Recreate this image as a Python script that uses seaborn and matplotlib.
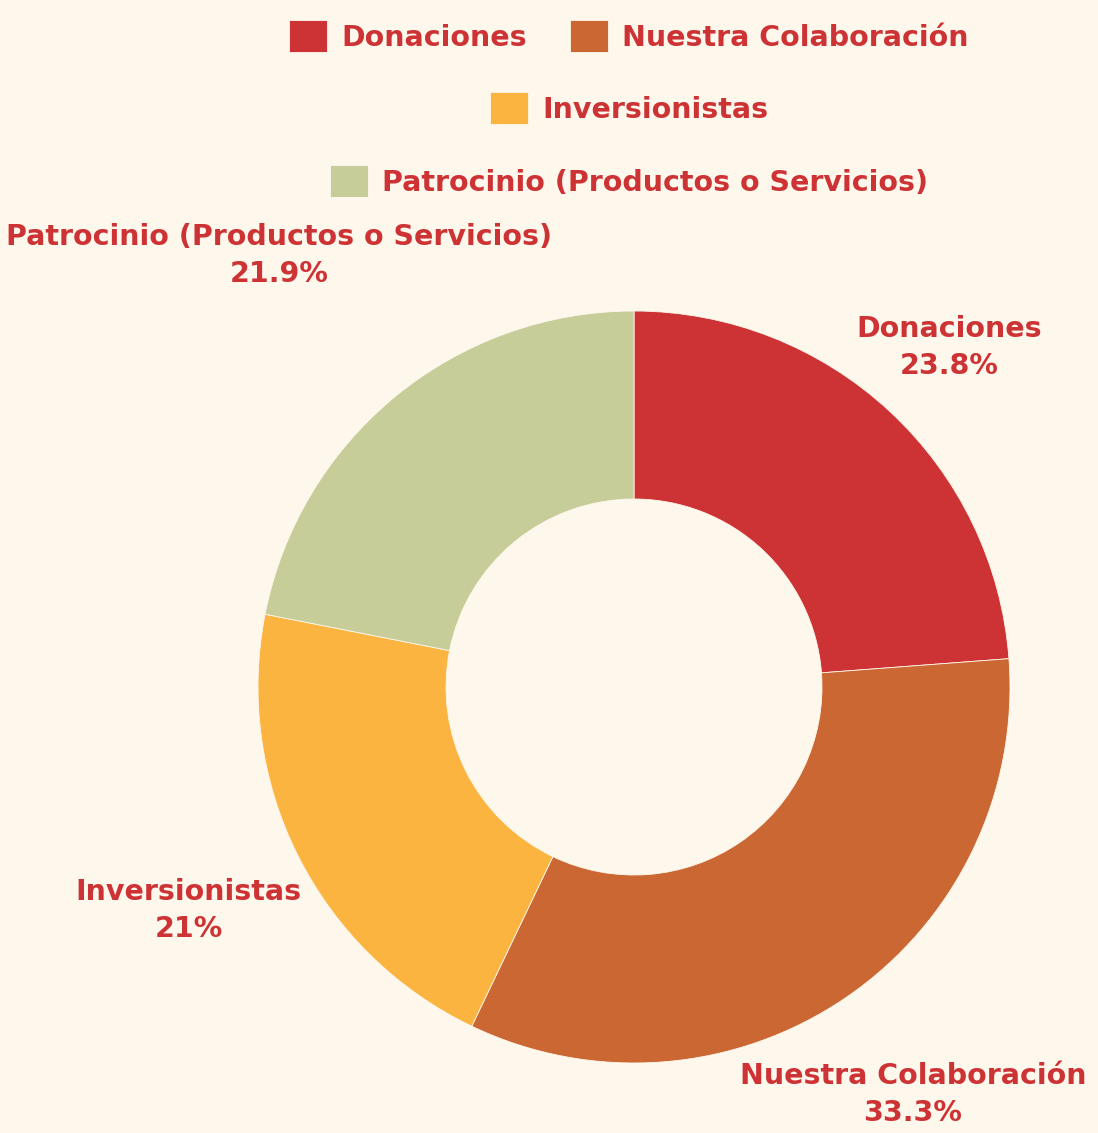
import numpy as np
import matplotlib
matplotlib.use("Agg")
import matplotlib.pyplot as plt
import seaborn as sns

# Funding sources (percent of total)
categories = ["Donaciones", "Nuestra Colaboración", "Inversionistas",
              "Patrocinio (Productos o Servicios)"]
shares = [23.8, 33.3, 21.0, 21.9]
share_labels = ["23.8%", "33.3%", "21%", "21.9%"]
slice_colors = ["#CD3334", "#CB6733", "#FBB440", "#C7CD99"]

BG = "#FEF7EC"
TEXT = "#CD3334"
FONT_PT = 20.5

sns.set_theme(style="white")
plt.rcParams["font.family"] = ["DejaVu Sans"]
plt.rcParams["font.weight"] = "bold"

W, H, DPI = 1098, 1133, 100
fig = plt.figure(figsize=(W / DPI, H / DPI), dpi=DPI, facecolor=BG)

# doughnut axes: centre (634, 687) px, outer radius 376 px
cx, cy, R = 634, 687, 376
ax = fig.add_axes([(cx - R) / W, (H - cy - R) / H, 2 * R / W, 2 * R / H])
ax.set_facecolor(BG)
ax.axis("off")

wedges, _ = ax.pie(
    shares,
    colors=sns.color_palette(slice_colors),
    startangle=90,
    counterclock=False,
    radius=1.0,
    wedgeprops=dict(width=0.5, edgecolor=BG, linewidth=0.6),
)
ax.set_xlim(-1, 1)
ax.set_ylim(-1, 1)
ax.set_aspect("equal")

# Legend rows, centred (2 items, then 1, then 1)
rows = [[0, 1], [2], [3]]
row_y = [36, 108, 181]
for idx, yy in zip(rows, row_y):
    fig.legend(
        [wedges[i] for i in idx], [categories[i] for i in idx],
        loc="center", bbox_to_anchor=(629 / W, 1 - yy / H),
        ncol=len(idx), frameon=False,
        prop=dict(size=FONT_PT, weight="bold"), labelcolor=TEXT,
        handlelength=1.33, handleheight=1.33, handletextpad=0.5,
        columnspacing=1.5, borderpad=0, borderaxespad=0,
    )

# Outside labels: placed along each slice's mid-angle, kept inside the canvas
fig.canvas.draw()
renderer = fig.canvas.get_renderer()
c_disp = ax.transData.transform((0, 0))
r_disp = ax.transData.transform((1, 0))[0] - c_disp[0]
offset, margin = 20, 6
for w, name, pct in zip(wedges, categories, share_labels):
    mid = np.deg2rad((w.theta1 + w.theta2) / 2)
    ux, uy = np.cos(mid), np.sin(mid)
    t = fig.text(0, 0, f"{name}\n{pct}", ha="center", va="center",
                 ma="center", color=TEXT, fontsize=FONT_PT,
                 fontweight="bold", linespacing=1.4,
                 transform=None)
    bb = t.get_window_extent(renderer)
    a, b = bb.width / 2, bb.height / 2
    d = r_disp + offset + np.hypot(a * ux, b * uy)
    x = c_disp[0] + ux * d
    y = c_disp[1] + uy * d
    # pull back along the ray if the box leaves the canvas
    back = 0.0
    if x - a < margin and ux < 0:
        back = max(back, (margin - (x - a)) / abs(ux))
    if x + a > W - margin and ux > 0:
        back = max(back, ((x + a) - (W - margin)) / abs(ux))
    if y - b < margin and uy < 0:
        back = max(back, (margin - (y - b)) / abs(uy))
    if y + b > H - margin and uy > 0:
        back = max(back, ((y + b) - (H - margin)) / abs(uy))
    x -= ux * back
    y -= uy * back
    t.set_position((x, y))

fig.savefig("out.png", dpi=DPI, facecolor=BG)
